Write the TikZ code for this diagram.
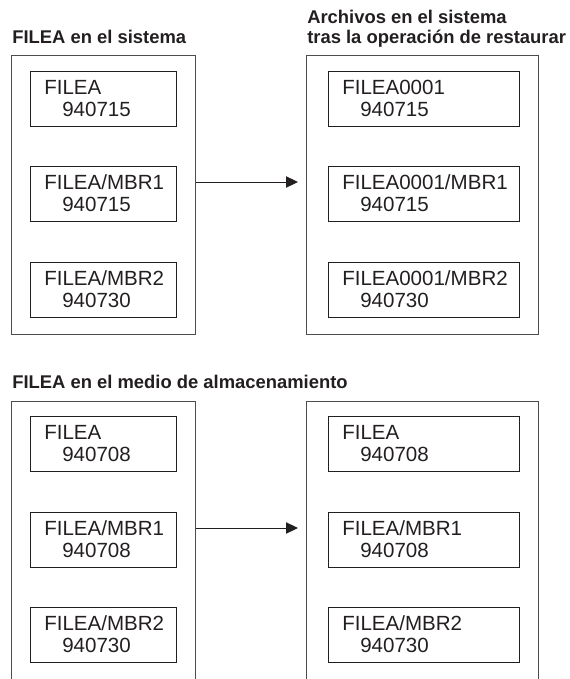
\documentclass[tikz,border=0pt]{standalone}
\usepackage{fontspec}
\setmainfont{Liberation Sans}
\usepackage{xcolor}
\usetikzlibrary{arrows.meta,positioning}
\definecolor{inkgray}{HTML}{231F20}
\definecolor{framegray}{HTML}{4D4D4D}

\begin{document}
\begin{tikzpicture}[x=0.75pt, y=-0.75pt,
	outerbox/.style={draw=framegray, line width=0.9pt, anchor=north west, inner sep=0pt, minimum height=209.25pt},
	filebox/.style={draw=inkgray, line width=0.8pt, anchor=north west, inner sep=0pt, minimum height=41.25pt},
	narrowbox/.style={filebox, minimum width=109.5pt},
	widebox/.style={filebox, minimum width=143.25pt},
	fname/.style={anchor=base west, inner sep=0pt, font=\fontsize{15.4}{18}\selectfont, text=inkgray},
	heading/.style={anchor=base west, inner sep=0pt, font=\fontsize{13.8}{15}\selectfont\bfseries, text=inkgray},
	flow/.style={draw=inkgray, line width=0.75pt, -{Triangle[length=9pt,width=8.5pt]}}]
				\clip (0,0) rectangle (569,679);
				% Headings:
				\node[heading] (hsys) at (12,43) {FILEA en el sistema};
				\node[heading] (hres) at (307,23) {Archivos en el sistema};
				\node[heading] (hres2) at (307,43) {tras la operación de restaurar};
				\node[heading] (hmed) at (12,388) {FILEA en el medio de almacenamiento};
				% Outer frames:
				\node[outerbox, minimum width=138pt] (sys) at (11,55) {};
				\node[outerbox, minimum width=174pt] (res) at (306,55) {};
				\node[outerbox, minimum width=138pt, minimum height=225pt] (med) at (11,401) {};
				\node[outerbox, minimum width=174pt, minimum height=225pt] (out) at (306,401) {};
				% Files on the system:
				\node[narrowbox] (sysA) at (30,71) {};
				\node[fname] at ([shift={(14,23)}]sysA.north west) {FILEA};
				\node[fname] at ([shift={(32,45)}]sysA.north west) {940715};
				\node[narrowbox] (sysB) at (30,166) {};
				\node[fname] at ([shift={(14,23)}]sysB.north west) {FILEA/MBR1};
				\node[fname] at ([shift={(32,45)}]sysB.north west) {940715};
				\node[narrowbox] (sysC) at (30,262) {};
				\node[fname] at ([shift={(14,23)}]sysC.north west) {FILEA/MBR2};
				\node[fname] at ([shift={(32,45)}]sysC.north west) {940730};
				% Files after restore:
				\node[widebox] (resA) at (328,71) {};
				\node[fname] at ([shift={(14,23)}]resA.north west) {FILEA0001};
				\node[fname] at ([shift={(32,45)}]resA.north west) {940715};
				\node[widebox] (resB) at (328,166) {};
				\node[fname] at ([shift={(14,23)}]resB.north west) {FILEA0001/MBR1};
				\node[fname] at ([shift={(32,45)}]resB.north west) {940715};
				\node[widebox] (resC) at (328,262) {};
				\node[fname] at ([shift={(14,23)}]resC.north west) {FILEA0001/MBR2};
				\node[fname] at ([shift={(32,45)}]resC.north west) {940730};
				% Files on the media:
				\node[narrowbox] (medA) at (30,416) {};
				\node[fname] at ([shift={(14,23)}]medA.north west) {FILEA};
				\node[fname] at ([shift={(32,45)}]medA.north west) {940708};
				\node[narrowbox] (medB) at (30,512) {};
				\node[fname] at ([shift={(14,23)}]medB.north west) {FILEA/MBR1};
				\node[fname] at ([shift={(32,45)}]medB.north west) {940708};
				\node[narrowbox] (medC) at (30,607) {};
				\node[fname] at ([shift={(14,23)}]medC.north west) {FILEA/MBR2};
				\node[fname] at ([shift={(32,45)}]medC.north west) {940730};
				\node[widebox] (outA) at (328,416) {};
				\node[fname] at ([shift={(14,23)}]outA.north west) {FILEA};
				\node[fname] at ([shift={(32,45)}]outA.north west) {940708};
				\node[widebox] (outB) at (328,512) {};
				\node[fname] at ([shift={(14,23)}]outB.north west) {FILEA/MBR1};
				\node[fname] at ([shift={(32,45)}]outB.north west) {940708};
				\node[widebox] (outC) at (328,607) {};
				\node[fname] at ([shift={(14,23)}]outC.north west) {FILEA/MBR2};
				\node[fname] at ([shift={(32,45)}]outC.north west) {940730};
				% Arrows:
				\coordinate (tipres) at (298,182);
				\coordinate (tipout) at (298,528);
				\draw[flow] (tipres -| sys.east) -- (tipres);
				\draw[flow] (tipout -| med.east) -- (tipout);
			\end{tikzpicture}
\end{document}
